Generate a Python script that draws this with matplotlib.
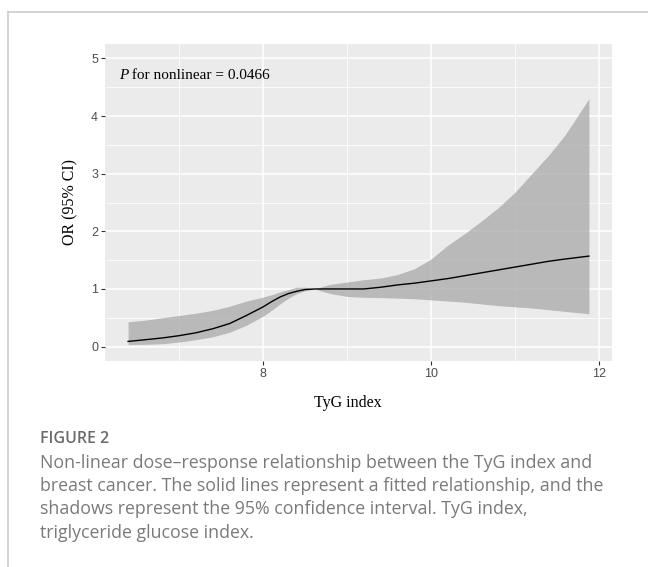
import matplotlib.pyplot as plt
from matplotlib.lines import Line2D

# Data
tyg = [6.39, 6.6, 6.8, 7.0, 7.2, 7.4, 7.6, 7.8, 8.0, 8.1, 8.2, 8.3, 8.4,
       8.5, 8.62, 8.7, 8.8, 9.0, 9.2, 9.4, 9.6, 9.8, 10.0, 10.2, 10.4,
       10.6, 10.8, 11.0, 11.2, 11.4, 11.6, 11.88]
odds_ratio = [0.09, 0.12, 0.15, 0.19, 0.24, 0.31, 0.40, 0.54, 0.69, 0.78,
              0.86, 0.92, 0.96, 0.99, 1.0, 1.0, 1.0, 1.0, 1.0, 1.03, 1.07,
              1.10, 1.14, 1.18, 1.23, 1.28, 1.33, 1.38, 1.43, 1.48, 1.52,
              1.57]
ci_upper = [0.43, 0.46, 0.50, 0.54, 0.58, 0.63, 0.70, 0.79, 0.86, 0.90,
            0.95, 0.99, 1.03, 1.03, 1.0, 1.04, 1.08, 1.12, 1.16, 1.19, 1.25,
            1.35, 1.52, 1.76, 1.96, 2.18, 2.41, 2.68, 3.0, 3.32, 3.68, 4.30]
ci_lower = [0.035, 0.04, 0.05, 0.08, 0.12, 0.17, 0.25, 0.37, 0.53, 0.63,
            0.74, 0.84, 0.92, 0.97, 1.0, 0.96, 0.92, 0.87, 0.855, 0.85, 0.84,
            0.83, 0.81, 0.79, 0.77, 0.74, 0.71, 0.69, 0.67, 0.64, 0.61, 0.57]
x_ticks = [8, 10, 12]
y_ticks = [0, 1, 2, 3, 4, 5]

W, H = 648, 567


def px(x, y):
    """pixel coords -> figure fraction"""
    return x / W, 1 - y / H


fig = plt.figure(figsize=(6.48, 5.67), dpi=100)
fig.patch.set_facecolor("white")

# outer frame of the figure box
fig.add_artist(Line2D([8 / W, 1], [1 - 12 / H] * 2, color="#cccccc", lw=1.2))
fig.add_artist(Line2D([8 / W] * 2, [0, 1 - 12 / H], color="#cccccc", lw=1.2))

left, top = px(105, 44)
right, bottom = px(612, 361)
ax = fig.add_axes([left, bottom, right - left, top - bottom])
ax.set_facecolor("#EBEBEB")

ax.fill_between(tyg, ci_lower, ci_upper, color="#a6a6a6", alpha=0.72,
                lw=0, zorder=3)
ax.plot(tyg, odds_ratio, color="black", lw=1.0, zorder=4)

ax.set_xlim(6.115, 12.155)
ax.set_ylim(-0.25, 5.25)
ax.set_xticks(x_ticks)
ax.set_yticks(y_ticks)
ax.set_xticks([7, 9, 11], minor=True)
ax.set_yticks([0.5, 1.5, 2.5, 3.5, 4.5], minor=True)
ax.grid(which="major", color="white", lw=1.1, zorder=0)
ax.grid(which="minor", color="white", lw=0.55, zorder=0)
ax.set_axisbelow(True)
for s in ax.spines.values():
    s.set_visible(False)
ax.tick_params(which="major", length=3, width=0.8, color="#333333",
               labelsize=9, labelcolor="#4D4D4D", pad=2)
ax.tick_params(which="minor", length=0)
for lab in ax.get_xticklabels() + ax.get_yticklabels():
    lab.set_family("Liberation Sans")

p_txt = ax.text(0.0276, 0.902, "P", transform=ax.transAxes,
                family="Liberation Serif", style="italic", fontsize=11,
                va="center", ha="left")
ax.annotate(" for nonlinear = 0.0466", xy=(1, 0.5), xycoords=p_txt,
            family="Liberation Serif", fontsize=11, va="center", ha="left")

fig.text(*px(348, 403), "TyG index", family="Liberation Serif", fontsize=11.5,
         ha="center", va="center")
fig.text(*px(70, 202), "OR (95% CI)", family="Liberation Serif",
         fontsize=11.5, ha="center", va="center", rotation=90)

# caption
fig.text(*px(40, 439), "FIGURE 2", family="Open Sans", fontsize=11.5,
         weight="semibold", color="#6b6b6b", va="center")
caption = [
    "Non-linear dose\u2013response relationship between the TyG index and",
    "breast cancer. The solid lines represent a fitted relationship, and the",
    "shadows represent the 95% confidence interval. TyG index,",
    "triglyceride glucose index.",
]
for i, line in enumerate(caption):
    fig.text(*px(40, 462.7 + 23.3 * i), line, family="Open Sans",
             fontsize=12.8, color="#7a7a7a", va="center")

fig.savefig("out.png", dpi=100)
